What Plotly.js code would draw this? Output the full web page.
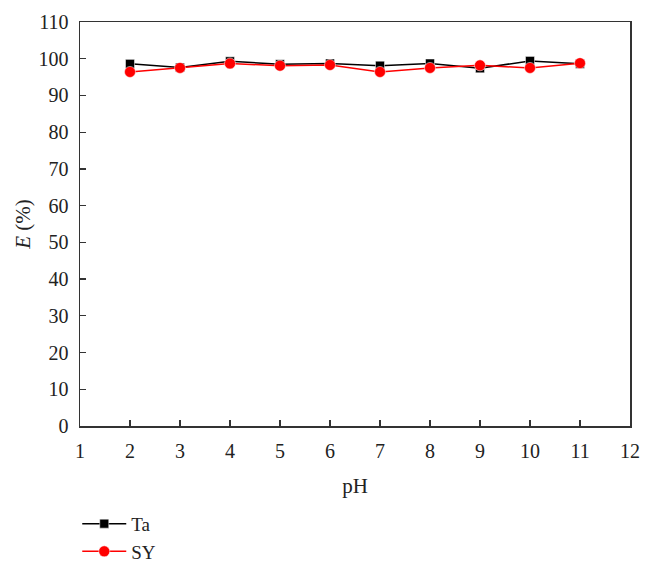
<!DOCTYPE html>
<html>
<head>
<meta charset="utf-8">
<script src="https://cdn.plot.ly/plotly-3.0.1.min.js"></script>
<style>
  body { margin: 0; background: #fff; }
  #plot-area { width: 653px; height: 564px; }
</style>
</head>
<body>
<div id="plot-area"></div>
<script>
// pH values and removal efficiency E (%)
var pHValues = [2, 3, 4, 5, 6, 7, 8, 9, 10, 11];
var taValues = [98.6, 97.6, 99.3, 98.5, 98.7, 98.1, 98.7, 97.4, 99.4, 98.6];
var syValues = [96.4, 97.5, 98.7, 98.1, 98.3, 96.4, 97.5, 98.2, 97.5, 98.8];

var xTicks = [1, 2, 3, 4, 5, 6, 7, 8, 9, 10, 11, 12];
var yTicks = [0, 10, 20, 30, 40, 50, 60, 70, 80, 90, 100, 110];

var serif = "Liberation Serif, DejaVu Serif, serif";

var data = [
    {
        x: pHValues,
        y: taValues,
        mode: "lines+markers",
        name: "Ta",
        line: {color: "black", width: 1.5},
        marker: {symbol: "square", size: 9, color: "black", line: {color: "white", width: 0.5}}
    },
    {
        x: pHValues,
        y: syValues,
        mode: "lines+markers",
        name: "SY",
        line: {color: "#ff0000", width: 1.5},
        marker: {symbol: "circle", size: 11, color: "#ff0000", line: {color: "white", width: 0.5}}
    }
];

var layout = {
    width: 653,
    height: 564,
    margin: {l: 80, r: 23, t: 22, b: 138, autoexpand: false},
    paper_bgcolor: "white",
    plot_bgcolor: "white",
    font: {family: serif, size: 20, color: "#222"},
    showlegend: true,
    legend: {
        x: -0.005, xanchor: "left",
        y: -0.195, yanchor: "top",
        orientation: "v",
        font: {family: serif, size: 19, color: "#222"},
        itemwidth: 44,
        tracegroupgap: 0,
        bgcolor: "rgba(0,0,0,0)"
    },
    xaxis: {
        title: {text: "pH", font: {family: serif, size: 21}, standoff: 18},
        range: [1, 12],
        tickvals: xTicks,
        ticks: "inside",
        ticklen: 6,
        tickwidth: 1.3,
        tickcolor: "#333",
        ticklabelstandoff: 6,
        showline: true,
        linecolor: "#333",
        linewidth: 1.5,
        mirror: true,
        showgrid: false,
        zeroline: false
    },
    yaxis: {
        title: {text: "<i>E</i> (%)", font: {family: serif, size: 21}, standoff: 2},
        range: [0, 110],
        tickvals: yTicks,
        ticks: "inside",
        ticklen: 6,
        tickwidth: 1.3,
        tickcolor: "#333",
        ticklabelstandoff: 6,
        showline: true,
        linecolor: "#333",
        linewidth: 1.5,
        mirror: true,
        showgrid: false,
        zeroline: false
    }
};

Plotly.newPlot("plot-area", data, layout, {displayModeBar: false, staticPlot: true});
</script>
</body>
</html>
